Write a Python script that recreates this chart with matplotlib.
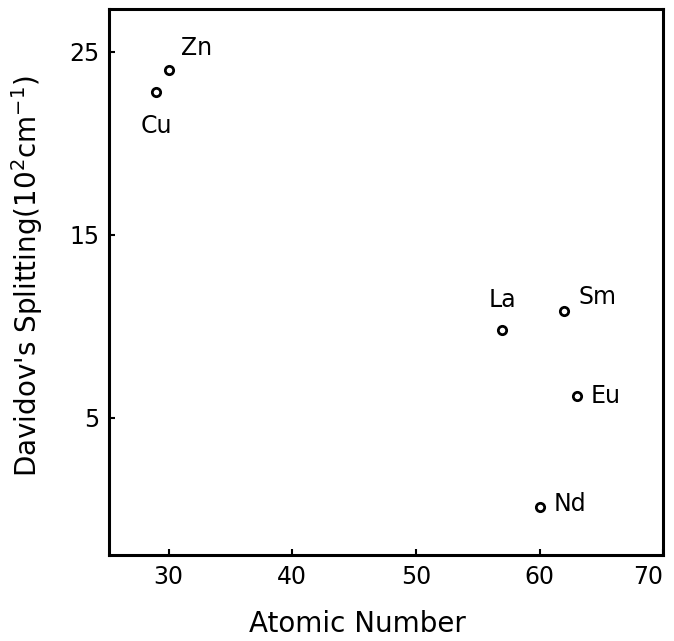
import matplotlib

matplotlib.use("Agg")
from matplotlib import pyplot as plt

# atomic number vs Davidov splitting (10^2 cm^-1)
elements = ["Cu", "Zn", "La", "Sm", "Eu", "Nd"]
atomic_number = [29, 30, 57, 62, 63, 60]
splitting = [22.8, 24.0, 9.8, 10.85, 6.2, 0.15]
xtick_values = [30, 40, 50, 60, 70]
ytick_values = [5, 15, 25]

# label offsets in pixels (dx, dy) and alignment
label_pos = {
    "Cu": ((0, -34), "center", "center"),
    "Zn": ((12, 22), "left", "center"),
    "La": ((0, 30), "center", "center"),
    "Sm": ((14, 14), "left", "center"),
    "Eu": ((14, 0), "left", "center"),
    "Nd": ((14, 3), "left", "center"),
}

fig = plt.figure(figsize=(6.74, 6.41), dpi=100)
ax = fig.add_axes([0.162, 0.134, 0.822, 0.852])

ax.plot(
    atomic_number,
    splitting,
    linestyle="none",
    marker="o",
    markersize=6,
    markerfacecolor="white",
    markeredgecolor="black",
    markeredgewidth=2,
)
for el, x, y in zip(elements, atomic_number, splitting):
    (dx, dy), ha, va = label_pos[el]
    ax.annotate(
        el,
        (x, y),
        xytext=(dx, dy),
        textcoords="offset pixels",
        ha=ha,
        va=va,
        fontsize=17,
    )

ax.set_xlim(25.2, 69.7)
ax.set_ylim(-2.5, 27.35)
ax.set_xticks(xtick_values)
ax.set_yticks(ytick_values)
ax.tick_params(direction="in", length=4, width=1.5, labelsize=17, pad=7)
# last x tick sits on the frame edge, keep its label inside the figure
ax.get_xticklabels()[-1].set_horizontalalignment("right")
for spine in ax.spines.values():
    spine.set_linewidth(2.2)

ax.set_xlabel("Atomic Number", fontsize=20)
ax.xaxis.set_label_coords(0.448, -0.1)
ax.set_ylabel(r"Davidov's Splitting(10$^{2}$cm$^{-1}$)", fontsize=20)
ax.yaxis.set_label_coords(-0.115, 0.51)

fig.savefig("out.png", dpi=100)
